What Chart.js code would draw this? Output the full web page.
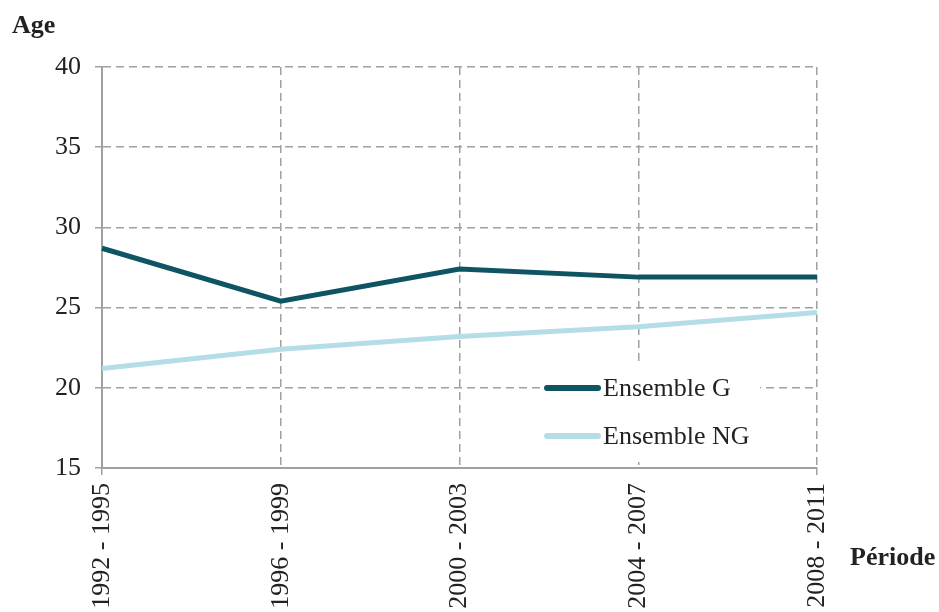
<!DOCTYPE html>
<html>
<head>
<meta charset="utf-8">
<script src="https://cdn.jsdelivr.net/npm/chart.js@4/dist/chart.umd.min.js"></script>
<style>
  html, body { margin: 0; padding: 0; background: #fff; }
  #wrap { position: relative; width: 939px; height: 612px; }
</style>
</head>
<body>
<div id="wrap"><canvas id="ageChart" width="939" height="612"></canvas></div>
<script>
// ---- data ----
const periods = ["1992 - 1995", "1996 - 1999", "2000 - 2003", "2004 - 2007", "2008 - 2011"];
const ensembleG = [28.7, 25.4, 27.4, 26.9, 26.9];
const ensembleNG = [21.2, 22.4, 23.2, 23.8, 24.7];
const yTicks = [15, 20, 25, 30, 35, 40];

const seriesNames = ["Ensemble G", "Ensemble NG"];
const seriesColors = ["#0e5463", "#b5dde8"];

const FONT = "'Liberation Serif', 'Times New Roman', serif";
const GRID = '#a0a0a0';

// legend box + axis titles, drawn on top of the grid
const overlayPlugin = {
    id: 'overlay',
    afterDraw(chart) {
        const ctx = chart.ctx;
        ctx.save();
        // white legend box hiding the grid behind it
        ctx.fillStyle = '#fff';
        ctx.fillRect(540, 364, 220, 98);
        seriesNames.forEach((name, i) => {
            const y = 388 + i * 48;
            ctx.strokeStyle = seriesColors[i];
            ctx.lineWidth = 6;
            ctx.lineCap = 'round';
            ctx.beginPath();
            ctx.moveTo(547, y);
            ctx.lineTo(598, y);
            ctx.stroke();
            ctx.fillStyle = '#222';
            ctx.font = '26px ' + FONT;
            ctx.textBaseline = 'middle';
            ctx.textAlign = 'left';
            ctx.fillText(name, 603, y + 1);
        });
        // axis titles
        ctx.fillStyle = '#222';
        ctx.font = 'bold 26px ' + FONT;
        ctx.textBaseline = 'middle';
        ctx.fillText('Age', 12, 26);
        ctx.fillText('Période', 850, 558);
        ctx.restore();
    }
};

new Chart(document.getElementById('ageChart'), {
    type: 'line',
    data: {
        labels: periods,
        datasets: [
            { label: seriesNames[0], data: ensembleG, borderColor: seriesColors[0], borderWidth: 5, pointRadius: 0, tension: 0, fill: false },
            { label: seriesNames[1], data: ensembleNG, borderColor: seriesColors[1], borderWidth: 5, pointRadius: 0, tension: 0, fill: false }
        ]
    },
    options: {
        responsive: false,
        animation: false,
        layout: { padding: { top: 67, right: 122, bottom: 0, left: 0 } },
        plugins: { legend: { display: false }, tooltip: { enabled: false } },
        scales: {
            x: {
                offset: false,
                grid: {
                    color: GRID, lineWidth: 1.5, tickLength: 7, tickBorderDash: [],
                    // only the two outer categories show a tick below the axis
                    tickColor: (c) => (c.index === 0 || c.index === periods.length - 1) ? GRID : 'rgba(0,0,0,0)'
                },
                border: { display: true, color: GRID, width: 2, dash: [8, 5] },
                ticks: { color: '#222', font: { family: FONT, size: 26 }, minRotation: 90, maxRotation: 90, padding: 8 },
                afterFit(scale) { scale.height = 144; }
            },
            y: {
                min: 15,
                max: 40,
                afterBuildTicks(scale) { scale.ticks = yTicks.map(v => ({ value: v })); },
                grid: { color: GRID, lineWidth: 1.5, tickLength: 7, tickBorderDash: [8, 5] },
                border: { display: true, color: GRID, width: 2, dash: [8, 5] },
                ticks: { color: '#222', font: { family: FONT, size: 26 }, padding: 14 },
                afterFit(scale) { scale.width = 102; }
            }
        }
    },
    plugins: [overlayPlugin]
});
</script>
</body>
</html>
